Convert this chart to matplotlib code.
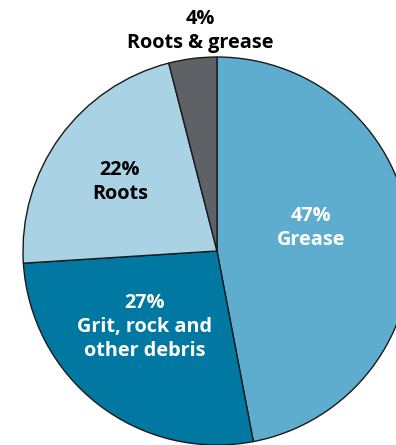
import matplotlib
matplotlib.use("Agg")
import matplotlib.pyplot as plt

categories = ["Grease", "Grit, rock and\nother debris", "Roots", "Roots & grease"]
shares = [47, 27, 22, 4]
colors = ["#5eadcf", "#0078a1", "#a9d2e5", "#5e6165"]
text_colors = ["white", "white", "black", "black"]
# label centres, in pixels from the top-left corner
label_xy = [(311, 228), (145, 327), (120, 182), (200, 31)]

W, H = 396, 445
fig = plt.figure(figsize=(W / 100, H / 100), dpi=100)
ax = fig.add_axes([0, 0, 1, 1])

cx, cy, r = 217, H - 251, 194
ax.pie(shares, colors=colors, startangle=90, counterclock=False,
       center=(cx, cy), radius=r, frame=True,
       wedgeprops=dict(edgecolor="#1a1a1a", linewidth=1.0))
ax.set_xlim(0, W)
ax.set_ylim(0, H)
ax.set_aspect("equal")
ax.axis("off")

font = dict(family="Open Sans", weight="bold", fontsize=14.3)
for name, val, (x, y), tc in zip(categories, shares, label_xy, text_colors):
    ax.text(x, H - y, f"{val}%\n{name}", ha="center", va="center",
            color=tc, linespacing=1.3, **font)

fig.savefig("out.png", dpi=100)
